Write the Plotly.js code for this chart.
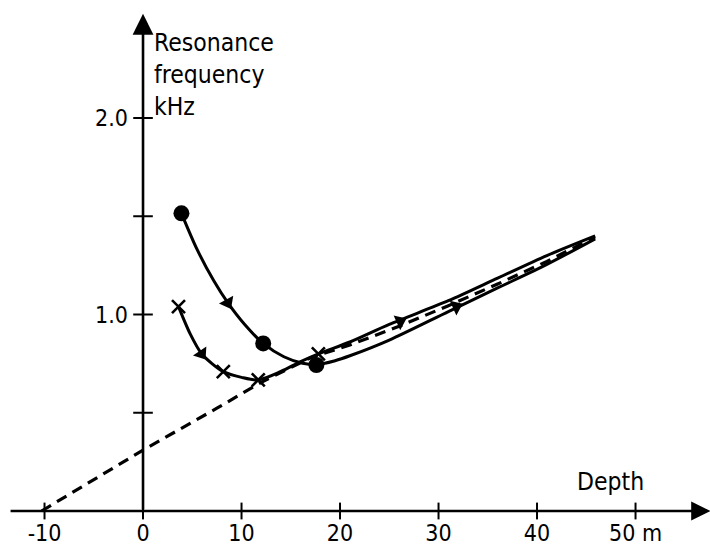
<!DOCTYPE html>
<html>
<head>
<meta charset="utf-8">
<script src="https://cdn.plot.ly/plotly-3.0.1.min.js"></script>
<style>html,body{margin:0;padding:0;background:#fff;}#chart{width:710px;height:548px;}</style>
</head>
<body>
<div id="chart"></div>
<script>
// ---- data ----
const dotCurveX = [3.9, 5.5, 7.2, 8.6, 10.3, 12.2, 14.3, 16.2, 17.6, 19.5, 21, 25, 31, 36, 41, 45.9];
const dotCurveY = [1.515, 1.33, 1.17, 1.06, 0.95, 0.853, 0.785, 0.752, 0.745, 0.765, 0.79, 0.87, 1.015, 1.135, 1.255, 1.385];
const dotX = [3.9, 12.2, 17.6];
const dotY = [1.515, 0.853, 0.743];

const crossCurveX = [3.6, 4.8, 5.95, 7.0, 8.15, 10.0, 11.7, 14.0, 16.0, 17.8, 21, 25, 31, 36, 41, 45.9];
const crossCurveY = [1.04, 0.90, 0.80, 0.75, 0.709, 0.68, 0.667, 0.71, 0.76, 0.80, 0.86, 0.95, 1.07, 1.185, 1.30, 1.40];
const crossX = [3.6, 8.15, 11.7, 17.8];
const crossY = [1.04, 0.709, 0.667, 0.80];

const dashX = [-10.3, 0, 7.5, 12, 17, 21, 26, 31, 36, 41, 45.9];
const dashY = [0, 0.31, 0.523, 0.655, 0.78, 0.845, 0.94, 1.045, 1.155, 1.27, 1.395];

const arrowX = [8.6, 5.95, 26.1, 31.8];
const arrowY = [1.06, 0.80, 0.965, 1.04];
const arrowAngle = [152, 146, 66, 66];

const xTickVals = [-10, 0, 10, 20, 30, 40, 50];
const xTickText = ['-10', '0', '10', '20', '30', '40', '50 m'];
const yTickVals = [0.5, 1.0, 1.5, 2.0];
const yTickText = ['', '1.0', '', '2.0'];

const yTitle = ['Resonance', 'frequency', 'kHz'];
const xTitle = 'Depth';

// ---- layout ----
const xRange = [-14.52, 57.56];
const yRange = [-0.1883, 2.6005];
const yPaper0 = (0 - yRange[0]) / (yRange[1] - yRange[0]);
const xPaper0 = (0 - xRange[0]) / (xRange[1] - xRange[0]);

const tickFont = {family: '"DejaVu Sans Condensed", sans-serif', size: 23, color: '#000'};
const titleFont = {family: '"DejaVu Sans Condensed", "DejaVu Sans", sans-serif', size: 24.5, color: '#000'};

const black = '#000';
const traces = [
  {x: dashX, y: dashY, mode: 'lines', line: {color: black, width: 3.2, dash: '11px,7px'}, hoverinfo: 'skip'},
  {x: dotCurveX, y: dotCurveY, mode: 'lines', line: {color: black, width: 3, shape: 'spline', smoothing: 0.8}, hoverinfo: 'skip'},
  {x: crossCurveX, y: crossCurveY, mode: 'lines', line: {color: black, width: 3, shape: 'spline', smoothing: 0.8}, hoverinfo: 'skip'},
  {x: dotX, y: dotY, mode: 'markers', marker: {symbol: 'circle', size: 16, color: black}, hoverinfo: 'skip'},
  {x: crossX, y: crossY, mode: 'markers', marker: {symbol: 'x-thin-open', size: 13, color: black, line: {color: black, width: 2.6}}, hoverinfo: 'skip'},
  {x: arrowX, y: arrowY, mode: 'markers', marker: {symbol: 'triangle-up', size: 14, color: black, angle: arrowAngle}, hoverinfo: 'skip'},
  // crossing tick marks on the axes
  {x: xTickVals, y: xTickVals.map(() => 0), mode: 'markers', marker: {symbol: 'line-ns-open', size: 12, color: black, line: {color: black, width: 2}}, hoverinfo: 'skip'},
  {x: yTickVals.map(() => 0), y: yTickVals, mode: 'markers', marker: {symbol: 'line-ew-open', size: 14, color: black, line: {color: black, width: 2}}, hoverinfo: 'skip'}
];

const layout = {
  width: 710, height: 548,
  margin: {l: 0, r: 0, t: 0, b: 0},
  paper_bgcolor: '#fff', plot_bgcolor: '#fff',
  showlegend: false,
  xaxis: {range: xRange, showgrid: false, zeroline: false, showline: false, ticks: '',
          tickmode: 'array', tickvals: xTickVals, ticktext: xTickText, tickfont: tickFont,
          anchor: 'free', position: yPaper0, ticklabelstandoff: 6, automargin: false, fixedrange: true},
  yaxis: {range: yRange, showgrid: false, zeroline: false, showline: false, ticks: '',
          tickmode: 'array', tickvals: yTickVals, ticktext: yTickText, tickfont: tickFont,
          anchor: 'free', position: xPaper0, ticklabelstandoff: 15, automargin: false, fixedrange: true},
  annotations: [
    // y axis with arrow
    {x: 0, y: 2.53, ax: 0, ay: 0, xref: 'x', yref: 'y', axref: 'x', ayref: 'y', showarrow: true,
     arrowhead: 2, arrowsize: 1.6, arrowwidth: 2.6, arrowcolor: black, text: ''},
    // x axis with arrow
    {x: 57.6, y: 0, ax: -13.6, ay: 0, xref: 'x', yref: 'y', axref: 'x', ayref: 'y', showarrow: true,
     arrowhead: 2, arrowsize: 1.6, arrowwidth: 2.4, arrowcolor: black, text: ''},
    {x: 152 / 710, y: 1 - 26 / 548, xref: 'paper', yref: 'paper', xanchor: 'left', yanchor: 'top', align: 'left',
     showarrow: false, text: yTitle.join('<br>'), font: titleFont},
    {x: 610 / 710, y: 1 - 481 / 548, xref: 'paper', yref: 'paper', xanchor: 'center', yanchor: 'middle',
     showarrow: false, text: xTitle, font: titleFont}
  ]
};

Plotly.newPlot('chart', traces, layout, {displayModeBar: false, staticPlot: true});
</script>
</body>
</html>
